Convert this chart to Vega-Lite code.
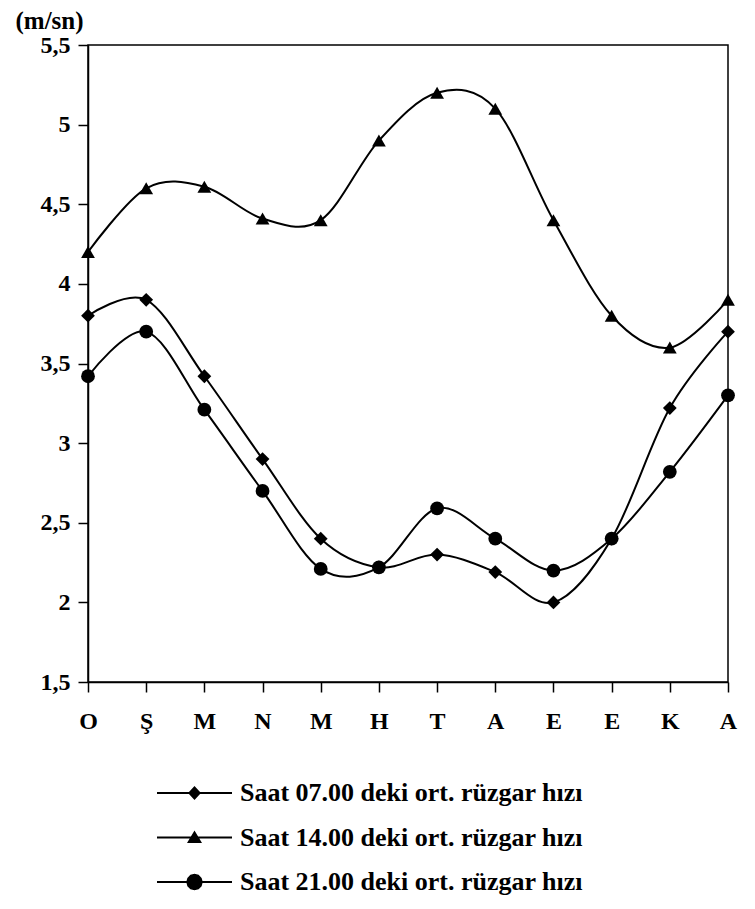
{
  "$schema": "https://vega.github.io/schema/vega-lite/v6.json",
  "width": 640,
  "height": 637,
  "autosize": {"type": "none"},
  "padding": {"left": 88, "top": 45, "right": 27, "bottom": 227},
  "background": "white",
  "config": {
    "font": "Liberation Serif",
    "view": {"stroke": "black", "strokeWidth": 1.5},
    "axis": {
      "domainColor": "black",
      "tickColor": "black",
      "labelColor": "black",
      "titleColor": "black",
      "labelFont": "Liberation Serif",
      "labelFontWeight": "bold",
      "grid": false,
      "domainWidth": 1.5,
      "tickWidth": 1.5,
      "tickSize": 10
    }
  },
  "data": {
    "values": [
      {"ay": "Ocak", "seri": "Saat 07.00 deki ort. rüzgar hızı", "hiz": 3.8},
      {"ay": "Şubat", "seri": "Saat 07.00 deki ort. rüzgar hızı", "hiz": 3.9},
      {"ay": "Mart", "seri": "Saat 07.00 deki ort. rüzgar hızı", "hiz": 3.42},
      {"ay": "Nisan", "seri": "Saat 07.00 deki ort. rüzgar hızı", "hiz": 2.9},
      {"ay": "Mayıs", "seri": "Saat 07.00 deki ort. rüzgar hızı", "hiz": 2.4},
      {"ay": "Haziran", "seri": "Saat 07.00 deki ort. rüzgar hızı", "hiz": 2.22},
      {"ay": "Temmuz", "seri": "Saat 07.00 deki ort. rüzgar hızı", "hiz": 2.3},
      {"ay": "Ağustos", "seri": "Saat 07.00 deki ort. rüzgar hızı", "hiz": 2.19},
      {"ay": "Eylül", "seri": "Saat 07.00 deki ort. rüzgar hızı", "hiz": 2.0},
      {"ay": "Ekim", "seri": "Saat 07.00 deki ort. rüzgar hızı", "hiz": 2.4},
      {"ay": "Kasım", "seri": "Saat 07.00 deki ort. rüzgar hızı", "hiz": 3.22},
      {"ay": "Aralık", "seri": "Saat 07.00 deki ort. rüzgar hızı", "hiz": 3.7},
      {"ay": "Ocak", "seri": "Saat 14.00 deki ort. rüzgar hızı", "hiz": 4.2},
      {"ay": "Şubat", "seri": "Saat 14.00 deki ort. rüzgar hızı", "hiz": 4.6},
      {"ay": "Mart", "seri": "Saat 14.00 deki ort. rüzgar hızı", "hiz": 4.61},
      {"ay": "Nisan", "seri": "Saat 14.00 deki ort. rüzgar hızı", "hiz": 4.41},
      {"ay": "Mayıs", "seri": "Saat 14.00 deki ort. rüzgar hızı", "hiz": 4.4},
      {"ay": "Haziran", "seri": "Saat 14.00 deki ort. rüzgar hızı", "hiz": 4.9},
      {"ay": "Temmuz", "seri": "Saat 14.00 deki ort. rüzgar hızı", "hiz": 5.2},
      {"ay": "Ağustos", "seri": "Saat 14.00 deki ort. rüzgar hızı", "hiz": 5.1},
      {"ay": "Eylül", "seri": "Saat 14.00 deki ort. rüzgar hızı", "hiz": 4.4},
      {"ay": "Ekim", "seri": "Saat 14.00 deki ort. rüzgar hızı", "hiz": 3.8},
      {"ay": "Kasım", "seri": "Saat 14.00 deki ort. rüzgar hızı", "hiz": 3.6},
      {"ay": "Aralık", "seri": "Saat 14.00 deki ort. rüzgar hızı", "hiz": 3.9},
      {"ay": "Ocak", "seri": "Saat 21.00 deki ort. rüzgar hızı", "hiz": 3.42},
      {"ay": "Şubat", "seri": "Saat 21.00 deki ort. rüzgar hızı", "hiz": 3.7},
      {"ay": "Mart", "seri": "Saat 21.00 deki ort. rüzgar hızı", "hiz": 3.21},
      {"ay": "Nisan", "seri": "Saat 21.00 deki ort. rüzgar hızı", "hiz": 2.7},
      {"ay": "Mayıs", "seri": "Saat 21.00 deki ort. rüzgar hızı", "hiz": 2.21},
      {"ay": "Haziran", "seri": "Saat 21.00 deki ort. rüzgar hızı", "hiz": 2.22},
      {"ay": "Temmuz", "seri": "Saat 21.00 deki ort. rüzgar hızı", "hiz": 2.59},
      {"ay": "Ağustos", "seri": "Saat 21.00 deki ort. rüzgar hızı", "hiz": 2.4},
      {"ay": "Eylül", "seri": "Saat 21.00 deki ort. rüzgar hızı", "hiz": 2.2},
      {"ay": "Ekim", "seri": "Saat 21.00 deki ort. rüzgar hızı", "hiz": 2.4},
      {"ay": "Kasım", "seri": "Saat 21.00 deki ort. rüzgar hızı", "hiz": 2.82},
      {"ay": "Aralık", "seri": "Saat 21.00 deki ort. rüzgar hızı", "hiz": 3.3}
    ]
  },
  "resolve": {"scale": {"shape": "independent"}, "legend": {"shape": "independent"}},
  "layer": [
    {
      "mark": {"type": "line", "interpolate": "cardinal", "strokeWidth": 2, "color": "black"},
      "encoding": {
        "x": {
          "field": "ay",
          "type": "ordinal",
          "sort": null,
          "scale": {"type": "point", "padding": 0},
          "axis": {
            "title": null,
            "labelExpr": "substring(datum.label, 0, 1)",
            "labelFontSize": 24,
            "labelPadding": 17,
            "labelAngle": 0
          }
        },
        "y": {
          "field": "hiz",
          "type": "quantitative",
          "scale": {"domain": [1.5, 5.5], "zero": false, "nice": false},
          "axis": {
            "values": [1.5, 2, 2.5, 3, 3.5, 4, 4.5, 5, 5.5],
            "labelExpr": "replace(format(datum.value, '~g'), '.', ',')",
            "labelFontSize": 24,
            "labelPadding": 8,
            "labelBaseline": "middle",
            "title": "(m/sn)",
            "titleAngle": 0,
            "titleAlign": "left",
            "titleBaseline": "alphabetic",
            "titleX": -73,
            "titleY": -17,
            "titleFont": "Liberation Serif",
            "titleFontWeight": "bold",
            "titleFontSize": 25
          }
        },
        "detail": {"field": "seri", "type": "nominal"}
      }
    },
    {
      "mark": {"type": "point", "filled": true, "color": "black", "opacity": 1, "size": 190},
      "encoding": {
        "x": {"field": "ay", "type": "ordinal", "sort": null},
        "y": {"field": "hiz", "type": "quantitative"},
        "shape": {
          "field": "seri",
          "type": "nominal",
          "scale": {"range": ["diamond", "triangle-up", "circle"]},
          "legend": null
        }
      }
    },
    {
      "mark": {"type": "point", "filled": true, "color": "black", "opacity": 0, "size": 10},
      "encoding": {
        "x": {"field": "ay", "type": "ordinal", "sort": null},
        "y": {"field": "hiz", "type": "quantitative"},
        "shape": {
          "field": "seri",
          "type": "nominal",
          "scale": {
            "range": [
              "M-2.5,-0.067H2.5V0.067H-2.5Z M0,-0.47L0.43,0L0,0.47L-0.43,0Z",
              "M-2.5,-0.067H2.5V0.067H-2.5Z M0,-0.47L0.5,0.37L-0.5,0.37Z",
              "M-2.5,-0.067H2.5V0.067H-2.5Z M0.55,0L0.476,0.275L0.275,0.476L0,0.55L-0.275,0.476L-0.476,0.275L-0.55,0L-0.476,-0.275L-0.275,-0.476L0,-0.55L0.275,-0.476L0.476,-0.275Z"
            ]
          },
          "legend": {
            "title": null,
            "orient": "none",
            "legendX": 91.5,
            "legendY": 733,
            "padding": 0,
            "symbolSize": 900,
            "symbolFillColor": "black",
            "symbolStrokeColor": "black",
            "symbolStrokeWidth": 0,
            "symbolOpacity": 1,
            "labelFont": "Liberation Serif",
            "labelFontWeight": "bold",
            "labelFontSize": 26,
            "labelColor": "black",
            "labelLimit": 600,
            "labelOffset": 30.5,
            "rowPadding": 16.5
          }
        }
      }
    }
  ]
}
